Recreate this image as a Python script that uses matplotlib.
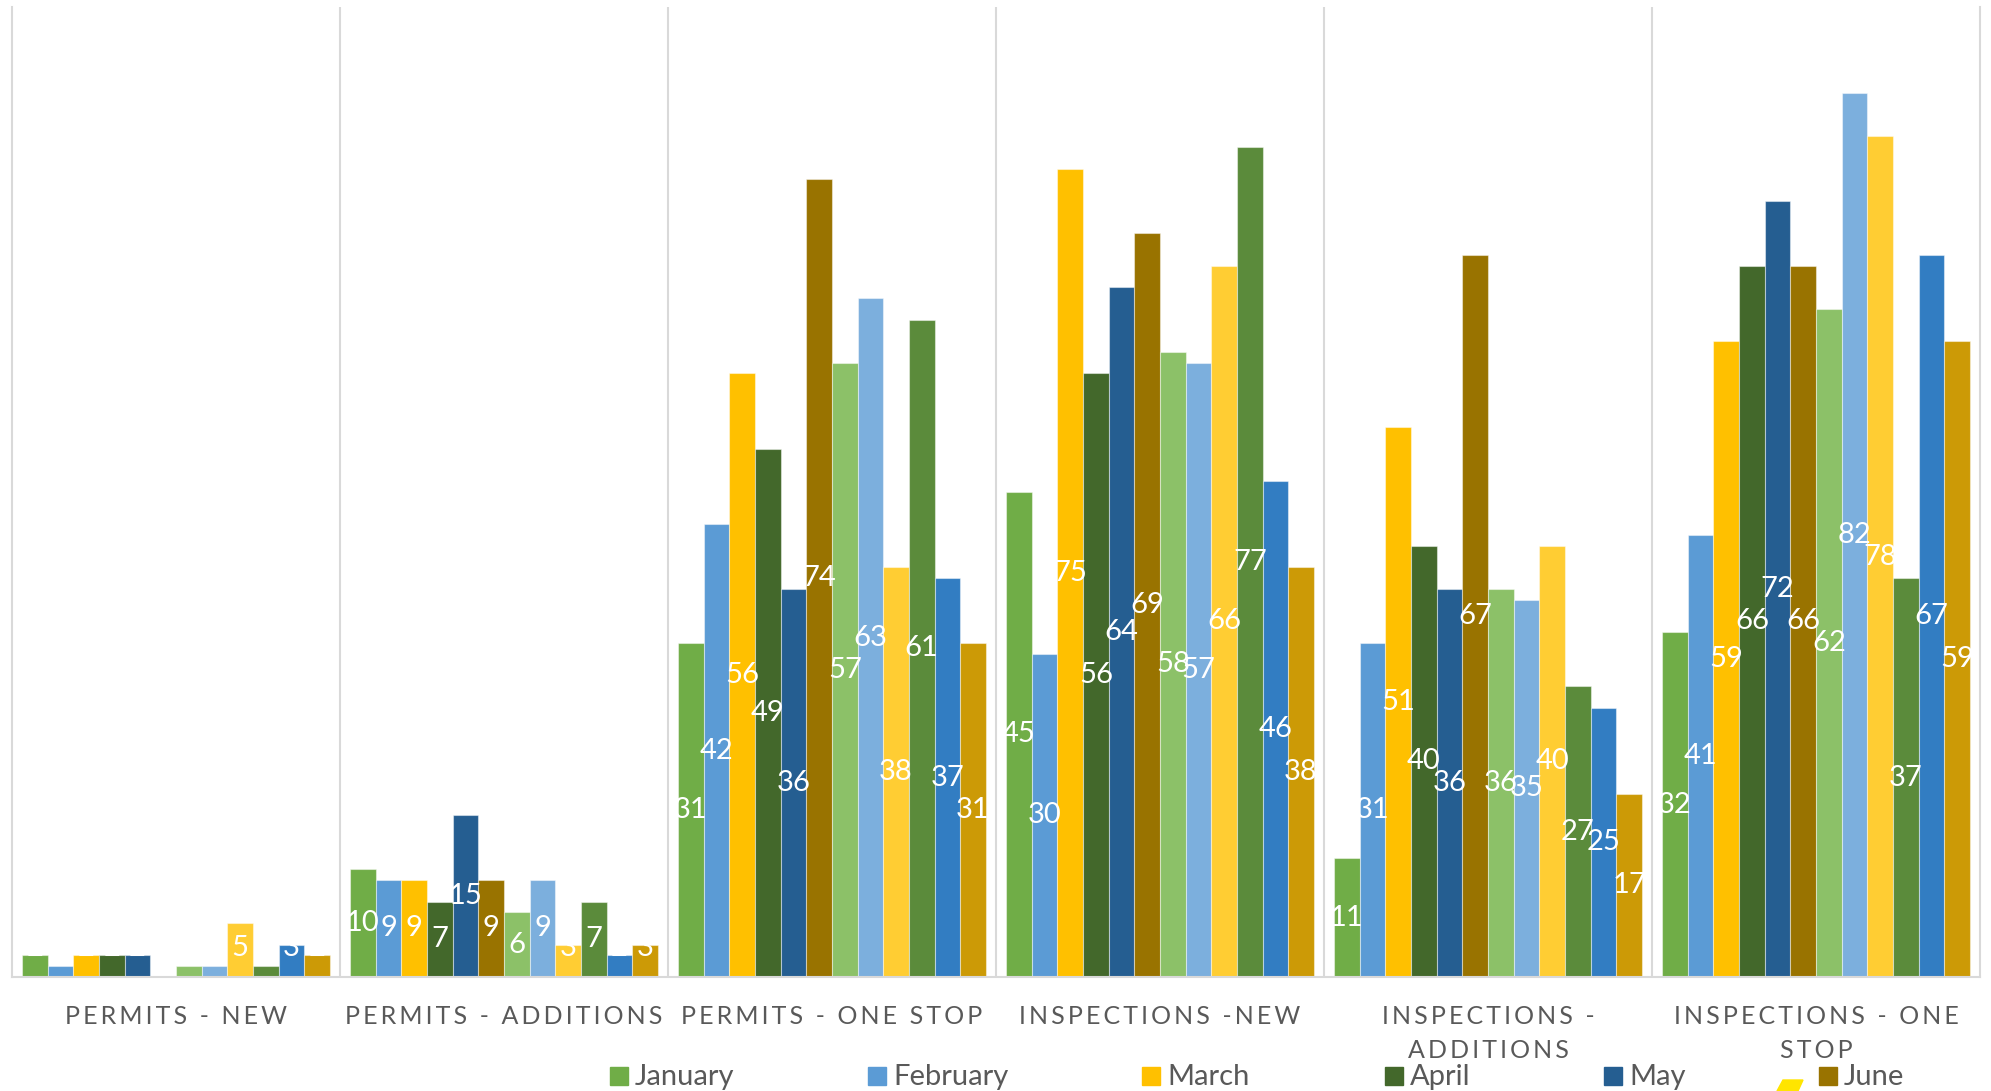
import matplotlib
matplotlib.use("Agg")
from matplotlib import pyplot as plt
from matplotlib.patches import Rectangle, Polygon
import numpy as np

# Data
categories = ["PERMITS - NEW", "PERMITS - ADDITIONS", "PERMITS - ONE STOP",
              "INSPECTIONS -NEW", "INSPECTIONS -\nADDITIONS", "INSPECTIONS - ONE\nSTOP"]
months = ["January", "February", "March", "April", "May", "June",
          "July", "August", "September", "October", "November", "December"]

# one list per category, Jan..Dec
permits_new = [2, 1, 2, 2, 2, 0, 1, 1, 5, 1, 3, 2]
permits_additions = [10, 9, 9, 7, 15, 9, 6, 9, 3, 7, 2, 3]
permits_one_stop = [31, 42, 56, 49, 36, 74, 57, 63, 38, 61, 37, 31]
inspections_new = [45, 30, 75, 56, 64, 69, 58, 57, 66, 77, 46, 38]
inspections_additions = [11, 31, 51, 40, 36, 67, 36, 35, 40, 27, 25, 17]
inspections_one_stop = [32, 41, 59, 66, 72, 66, 62, 82, 78, 37, 67, 59]

colors = ["#70AD47", "#5B9BD5", "#FFC000", "#43682B", "#255E91", "#997300",
          "#8CC168", "#7CAFDD", "#FFCD33", "#5B8B3B", "#327DC2", "#CC9A06"]

W, H = 1991, 1091


def spaced(text):
    # fake the wide letter spacing of the original labels with thin spaces
    return "\n".join("\u2009".join(line) for line in text.split("\n"))


def main():
    plt.rcParams['font.family'] = ['Lato', 'DejaVu Sans']
    values = np.array([permits_new, permits_additions, permits_one_stop,
                       inspections_new, inspections_additions, inspections_one_stop])

    fig = plt.figure(figsize=(W / 100, H / 100), dpi=100)
    ax = fig.add_axes([12 / W, (H - 977) / H, 1968 / W, 970 / H])

    x = np.arange(len(categories))
    width = 0.0782
    grid_col = "#D9D9D9"

    for b in np.arange(0.5, len(categories) - 0.5, 1):
        ax.axvline(b, color=grid_col, lw=1.5, zorder=0)

    for j, month in enumerate(months):
        pos = x + (j - 5.5) * width
        vals = values[:, j]
        ax.bar(pos, vals, width, color=colors[j], label=month,
               edgecolor=(1, 1, 1, 0.45), linewidth=0.8, zorder=2)
        for px, v in zip(pos, vals):
            ax.text(px, max(v / 2, 2.7), str(v), ha="center", va="center",
                    color="white", fontsize=21, zorder=3)

    ax.set_xlim(-0.5, len(categories) - 0.5)
    ax.set_ylim(0, 90)
    ax.set_yticks([])
    ax.set_xticks(x, [spaced(c) for c in categories])
    ax.tick_params(axis="x", length=0, pad=20, labelsize=18, labelcolor="#595959")
    for lab in ax.get_xticklabels():
        lab.set_linespacing(1.6)

    ax.spines["top"].set_visible(False)
    for s in ["left", "right", "bottom"]:
        ax.spines[s].set_color(grid_col)
        ax.spines[s].set_linewidth(1.5)

    # legend, only the first row fits in the picture
    legend_x = [610, 868, 1142, 1385, 1604, 1819]
    for j, lx in enumerate(legend_x):
        fig.patches.append(Rectangle((lx / W, (H - 1085) / H), 18 / W, 18 / H,
                                     transform=fig.transFigure, color=colors[j]))
        fig.text((lx + 25) / W, (H - 1085) / H, months[j], fontsize=21,
                 color="#595959", va="baseline", ha="left")

    # small yellow mark near the bottom edge
    fig.patches.append(Polygon([(1777 / W, 0), (1783 / W, 11 / H), (1803 / W, 11 / H),
                                (1798 / W, 0)], closed=True, transform=fig.transFigure,
                               color="#FFE500"))

    fig.savefig("out.png", dpi=100)


if __name__ == "__main__":
    main()
